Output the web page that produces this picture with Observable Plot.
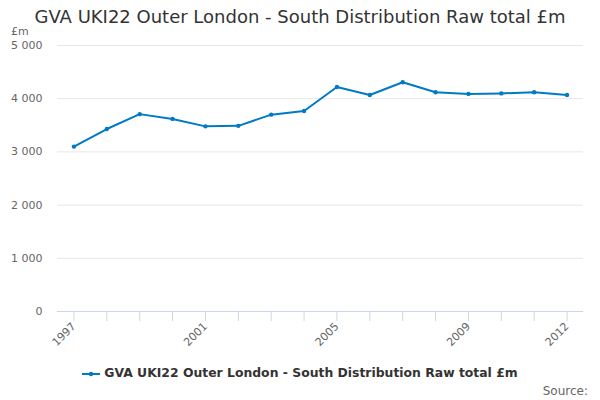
<!DOCTYPE html>
<html><head><meta charset="utf-8">
<script src="https://cdn.jsdelivr.net/npm/d3@7"></script>
<script src="https://cdn.jsdelivr.net/npm/@observablehq/plot@0.6"></script>
<style>
body{margin:0;background:#fff;font-family:"DejaVu Sans",sans-serif;}
#wrap{position:relative;width:600px;height:400px;overflow:hidden;}
#title{position:absolute;left:0;top:6px;width:600px;text-align:center;font-size:18px;color:#333;}
#unit{position:absolute;left:11px;top:25px;font-size:11px;color:#666;}
#plot{position:absolute;left:0;top:38px;}
#legend{position:absolute;left:0;top:365px;width:600px;text-align:center;font-size:12.4px;font-weight:bold;color:#333;}
#legend svg{vertical-align:middle;margin-right:4px;}
#source{position:absolute;right:12px;top:384px;font-size:12px;color:#666;}
#plot svg text{font-size:11px;}
</style></head><body>
<div id="wrap">
<div id="title">GVA UKI22 Outer London - South Distribution Raw total £m</div>
<div id="unit">£m</div>
<div id="plot"></div>
<div id="legend"><svg width="18" height="10"><line x1="0" y1="5" x2="18" y2="5" stroke="#007ac3" stroke-width="2"/><circle cx="9" cy="5" r="2.2" fill="#007ac3"/></svg>GVA UKI22 Outer London - South Distribution Raw total £m</div>
<div id="source">Source:</div>
</div>
<script>
const years = ["1997","1998","1999","2000","2001","2002","2003","2004","2005","2006","2007","2008","2009","2010","2011","2012"];
const values = [3100,3430,3710,3620,3480,3490,3700,3770,4220,4070,4310,4120,4090,4100,4120,4070];
const labeledYears = ["1997","2001","2005","2009","2012"];
const yTicks = [0,1000,2000,3000,4000,5000];
const color = "#007ac3";

const data = years.map((y,i)=>({year:y, value:values[i]}));
const fmt = v => d3.format(",")(v).replace(/,/g," ");

const chart = Plot.plot({
  width:600, height:310,
  marginLeft:57, marginRight:17, marginTop:7, marginBottom:37,
  style:{fontFamily:"DejaVu Sans, sans-serif", fontSize:"11px", color:"#666", background:"#fff"},
  x:{type:"point", domain:years, padding:0.5, round:false},
  y:{domain:[0,5000]},
  marks:[
    Plot.gridY(yTicks,{stroke:"#e6e6e6", strokeOpacity:1}),
    Plot.ruleY([0],{stroke:"#ccd6eb"}),
    Plot.axisY({ticks:yTicks, tickFormat:fmt, tickSize:0, tickPadding:15, label:null, fill:"#666", fontSize:11}),
    Plot.axisX({ticks:years, tickSize:10, stroke:"#ccd6eb", strokeOpacity:1, tickFormat:d=>labeledYears.includes(d)?d:"", tickRotate:-45, tickPadding:3, label:null, fill:"#666", fontSize:11}),
    Plot.line(data,{x:"year", y:"value", stroke:color, strokeWidth:2}),
    Plot.dot(data,{x:"year", y:"value", fill:color, r:2.2})
  ]
});
document.getElementById("plot").appendChild(chart);
</script>
</body></html>
